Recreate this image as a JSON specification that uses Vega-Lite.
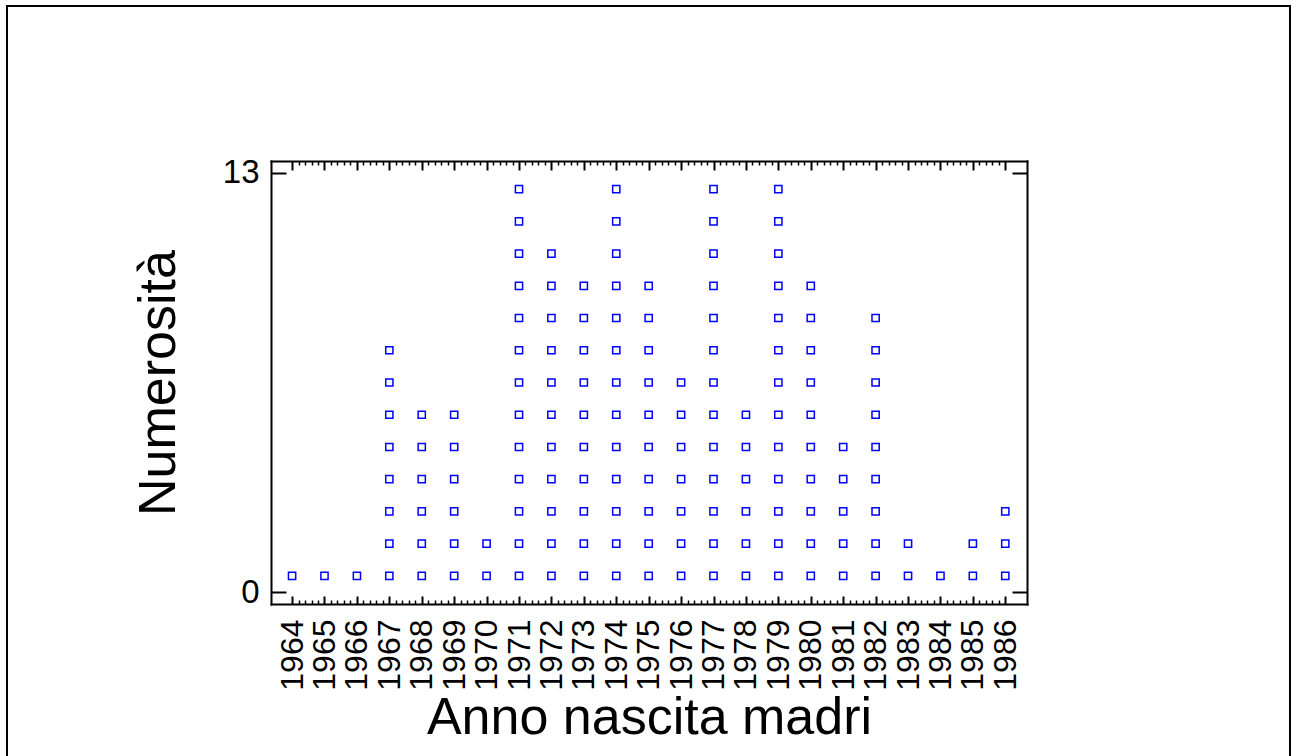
{
"$schema": "https://vega.github.io/schema/vega-lite/v6.json",
"width": 1283,
"height": 752,
"autosize": {"type": "none"},
"padding": {"left": 7, "top": 6, "right": 1, "bottom": -2},
"background": "white",
"config": {
  "view": {"stroke": "black", "strokeWidth": 2},
  "font": "Liberation Sans",
  "axis": {"grid": false, "labelFont": "Liberation Sans", "labelFontSize": 32, "labelColor": "black", "titleFont": "Liberation Sans", "titleFontSize": 52, "titleFontWeight": "normal", "titleColor": "black", "tickColor": "black", "domainColor": "black", "domainWidth": 2, "domainCap": "square", "labelOverlap": false, "labelFlush": false}
},
"data": {"values": [
{"anno":1964,"y":0.5},
{"anno":1965,"y":0.5},
{"anno":1966,"y":0.5},
{"anno":1967,"y":0.5},{"anno":1967,"y":1.5},{"anno":1967,"y":2.5},{"anno":1967,"y":3.5},{"anno":1967,"y":4.5},{"anno":1967,"y":5.5},{"anno":1967,"y":6.5},{"anno":1967,"y":7.5},
{"anno":1968,"y":0.5},{"anno":1968,"y":1.5},{"anno":1968,"y":2.5},{"anno":1968,"y":3.5},{"anno":1968,"y":4.5},{"anno":1968,"y":5.5},
{"anno":1969,"y":0.5},{"anno":1969,"y":1.5},{"anno":1969,"y":2.5},{"anno":1969,"y":3.5},{"anno":1969,"y":4.5},{"anno":1969,"y":5.5},
{"anno":1970,"y":0.5},{"anno":1970,"y":1.5},
{"anno":1971,"y":0.5},{"anno":1971,"y":1.5},{"anno":1971,"y":2.5},{"anno":1971,"y":3.5},{"anno":1971,"y":4.5},{"anno":1971,"y":5.5},{"anno":1971,"y":6.5},{"anno":1971,"y":7.5},{"anno":1971,"y":8.5},{"anno":1971,"y":9.5},{"anno":1971,"y":10.5},{"anno":1971,"y":11.5},{"anno":1971,"y":12.5},
{"anno":1972,"y":0.5},{"anno":1972,"y":1.5},{"anno":1972,"y":2.5},{"anno":1972,"y":3.5},{"anno":1972,"y":4.5},{"anno":1972,"y":5.5},{"anno":1972,"y":6.5},{"anno":1972,"y":7.5},{"anno":1972,"y":8.5},{"anno":1972,"y":9.5},{"anno":1972,"y":10.5},
{"anno":1973,"y":0.5},{"anno":1973,"y":1.5},{"anno":1973,"y":2.5},{"anno":1973,"y":3.5},{"anno":1973,"y":4.5},{"anno":1973,"y":5.5},{"anno":1973,"y":6.5},{"anno":1973,"y":7.5},{"anno":1973,"y":8.5},{"anno":1973,"y":9.5},
{"anno":1974,"y":0.5},{"anno":1974,"y":1.5},{"anno":1974,"y":2.5},{"anno":1974,"y":3.5},{"anno":1974,"y":4.5},{"anno":1974,"y":5.5},{"anno":1974,"y":6.5},{"anno":1974,"y":7.5},{"anno":1974,"y":8.5},{"anno":1974,"y":9.5},{"anno":1974,"y":10.5},{"anno":1974,"y":11.5},{"anno":1974,"y":12.5},
{"anno":1975,"y":0.5},{"anno":1975,"y":1.5},{"anno":1975,"y":2.5},{"anno":1975,"y":3.5},{"anno":1975,"y":4.5},{"anno":1975,"y":5.5},{"anno":1975,"y":6.5},{"anno":1975,"y":7.5},{"anno":1975,"y":8.5},{"anno":1975,"y":9.5},
{"anno":1976,"y":0.5},{"anno":1976,"y":1.5},{"anno":1976,"y":2.5},{"anno":1976,"y":3.5},{"anno":1976,"y":4.5},{"anno":1976,"y":5.5},{"anno":1976,"y":6.5},
{"anno":1977,"y":0.5},{"anno":1977,"y":1.5},{"anno":1977,"y":2.5},{"anno":1977,"y":3.5},{"anno":1977,"y":4.5},{"anno":1977,"y":5.5},{"anno":1977,"y":6.5},{"anno":1977,"y":7.5},{"anno":1977,"y":8.5},{"anno":1977,"y":9.5},{"anno":1977,"y":10.5},{"anno":1977,"y":11.5},{"anno":1977,"y":12.5},
{"anno":1978,"y":0.5},{"anno":1978,"y":1.5},{"anno":1978,"y":2.5},{"anno":1978,"y":3.5},{"anno":1978,"y":4.5},{"anno":1978,"y":5.5},
{"anno":1979,"y":0.5},{"anno":1979,"y":1.5},{"anno":1979,"y":2.5},{"anno":1979,"y":3.5},{"anno":1979,"y":4.5},{"anno":1979,"y":5.5},{"anno":1979,"y":6.5},{"anno":1979,"y":7.5},{"anno":1979,"y":8.5},{"anno":1979,"y":9.5},{"anno":1979,"y":10.5},{"anno":1979,"y":11.5},{"anno":1979,"y":12.5},
{"anno":1980,"y":0.5},{"anno":1980,"y":1.5},{"anno":1980,"y":2.5},{"anno":1980,"y":3.5},{"anno":1980,"y":4.5},{"anno":1980,"y":5.5},{"anno":1980,"y":6.5},{"anno":1980,"y":7.5},{"anno":1980,"y":8.5},{"anno":1980,"y":9.5},
{"anno":1981,"y":0.5},{"anno":1981,"y":1.5},{"anno":1981,"y":2.5},{"anno":1981,"y":3.5},{"anno":1981,"y":4.5},
{"anno":1982,"y":0.5},{"anno":1982,"y":1.5},{"anno":1982,"y":2.5},{"anno":1982,"y":3.5},{"anno":1982,"y":4.5},{"anno":1982,"y":5.5},{"anno":1982,"y":6.5},{"anno":1982,"y":7.5},{"anno":1982,"y":8.5},
{"anno":1983,"y":0.5},{"anno":1983,"y":1.5},
{"anno":1984,"y":0.5},
{"anno":1985,"y":0.5},{"anno":1985,"y":1.5},
{"anno":1986,"y":0.5},{"anno":1986,"y":1.5},{"anno":1986,"y":2.5}
]},
"layer": [
  {
    "mark": {"type": "point", "shape": "square", "filled": false, "stroke": "#0000ff", "strokeWidth": 1.5, "size": 52, "opacity": 1},
    "encoding": {
      "x": {"field": "anno", "type": "quantitative",
        "scale": {"domain": [1963.35, 1986.67], "range": [264, 1020], "nice": false, "zero": false},
        "axis": {"orient": "bottom", "offset": -154, "values": [1964,1965,1966,1967,1968,1969,1970,1971,1972,1973,1974,1975,1976,1977,1978,1979,1980,1981,1982,1983,1984,1985,1986], "format": "d", "labelAngle": -90, "labelFontSize": 32, "tickSize": -8, "tickWidth": 2, "labelPadding": 23, "title": "Anno nascita madri", "titlePadding": 2, "domain": true}},
      "y": {"field": "y", "type": "quantitative",
        "scale": {"domain": [-0.37, 13.37], "range": [598, 155], "nice": false, "zero": false},
        "axis": {"orient": "left", "offset": -264, "values": [0, 13], "format": "d", "labelFontSize": 33, "tickSize": -15, "tickWidth": 2, "labelPadding": 27, "title": "Numerosità", "titlePadding": 37, "domain": true}}
    }
  },
  {
    "mark": {"type": "point", "opacity": 0},
    "encoding": {
      "x": {"field": "anno", "type": "quantitative",
        "axis": {"orient": "bottom", "offset": -154, "values": [1964.2,1964.4,1964.6,1964.8,1965.2,1965.4,1965.6,1965.8,1966.2,1966.4,1966.6,1966.8,1967.2,1967.4,1967.6,1967.8,1968.2,1968.4,1968.6,1968.8,1969.2,1969.4,1969.6,1969.8,1970.2,1970.4,1970.6,1970.8,1971.2,1971.4,1971.6,1971.8,1972.2,1972.4,1972.6,1972.8,1973.2,1973.4,1973.6,1973.8,1974.2,1974.4,1974.6,1974.8,1975.2,1975.4,1975.6,1975.8,1976.2,1976.4,1976.6,1976.8,1977.2,1977.4,1977.6,1977.8,1978.2,1978.4,1978.6,1978.8,1979.2,1979.4,1979.6,1979.8,1980.2,1980.4,1980.6,1980.8,1981.2,1981.4,1981.6,1981.8,1982.2,1982.4,1982.6,1982.8,1983.2,1983.4,1983.6,1983.8,1984.2,1984.4,1984.6,1984.8,1985.2,1985.4,1985.6,1985.8], "labels": false, "tickSize": -4, "tickWidth": 1.5, "domain": false, "title": null}},
      "y": {"field": "y", "type": "quantitative",
        "axis": {"orient": "right", "offset": -263, "values": [0, 13], "labels": false, "tickSize": -15, "tickWidth": 2, "domain": true, "title": null}}
    }
  },
  {
    "mark": {"type": "point", "opacity": 0},
    "encoding": {
      "x": {"field": "anno", "type": "quantitative",
        "axis": {"orient": "top", "offset": -155, "values": [1964,1965,1966,1967,1968,1969,1970,1971,1972,1973,1974,1975,1976,1977,1978,1979,1980,1981,1982,1983,1984,1985,1986], "labels": false, "tickSize": -9, "tickWidth": 2, "domain": true, "title": null}},
      "y": {"field": "y", "type": "quantitative", "axis": null}
    }
  },
  {
    "mark": {"type": "point", "opacity": 0},
    "encoding": {
      "x": {"field": "anno", "type": "quantitative",
        "axis": {"orient": "top", "offset": -155, "values": [1964.2,1964.4,1964.6,1964.8,1965.2,1965.4,1965.6,1965.8,1966.2,1966.4,1966.6,1966.8,1967.2,1967.4,1967.6,1967.8,1968.2,1968.4,1968.6,1968.8,1969.2,1969.4,1969.6,1969.8,1970.2,1970.4,1970.6,1970.8,1971.2,1971.4,1971.6,1971.8,1972.2,1972.4,1972.6,1972.8,1973.2,1973.4,1973.6,1973.8,1974.2,1974.4,1974.6,1974.8,1975.2,1975.4,1975.6,1975.8,1976.2,1976.4,1976.6,1976.8,1977.2,1977.4,1977.6,1977.8,1978.2,1978.4,1978.6,1978.8,1979.2,1979.4,1979.6,1979.8,1980.2,1980.4,1980.6,1980.8,1981.2,1981.4,1981.6,1981.8,1982.2,1982.4,1982.6,1982.8,1983.2,1983.4,1983.6,1983.8,1984.2,1984.4,1984.6,1984.8,1985.2,1985.4,1985.6,1985.8], "labels": false, "tickSize": -4, "tickWidth": 1.5, "domain": false, "title": null}},
      "y": {"field": "y", "type": "quantitative", "axis": null}
    }
  }
],
"resolve": {"axis": {"x": "independent", "y": "independent"}}
}
